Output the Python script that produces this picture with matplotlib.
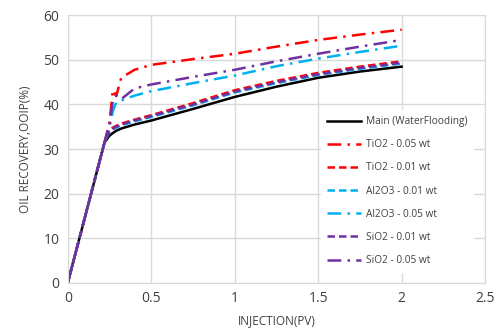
import matplotlib
matplotlib.use("Agg")
import matplotlib.pyplot as plt

# Pore volumes injected
pv = [0, 0.22, 0.25, 0.27, 0.29, 0.32, 0.40, 0.50, 0.75, 1.00, 1.25, 1.50, 1.75, 2.00]

# Oil recovery (% OOIP) per case
main_wf   = [0, 31.5, 33.0, 33.6, 34.1, 34.6, 35.5, 36.4, 39.0, 41.7, 44.0, 46.0, 47.4, 48.5]
tio2_005  = [0, 31.5, 36.0, 43.3, 41.9, 46.0, 47.8, 48.9, 50.2, 51.4, 53.0, 54.5, 55.7, 56.8]
tio2_001  = [0, 31.5, 34.3, 34.8, 35.2, 35.7, 36.6, 37.6, 40.3, 43.2, 45.3, 47.1, 48.5, 49.7]
al2o3_001 = [0, 31.5, 33.9, 34.4, 34.8, 35.3, 36.2, 37.2, 39.8, 42.7, 44.8, 46.6, 48.0, 49.2]
al2o3_005 = [0, 31.5, 35.0, 38.5, 40.5, 40.9, 42.0, 43.0, 44.8, 46.5, 48.6, 50.3, 51.8, 53.2]
sio2_001  = [0, 31.5, 34.1, 34.6, 35.0, 35.5, 36.4, 37.4, 40.0, 42.9, 45.0, 46.8, 48.2, 49.4]
sio2_005  = [0, 31.5, 35.5, 41.0, 42.0, 41.2, 43.6, 44.5, 46.2, 47.8, 49.7, 51.4, 53.0, 54.5]

labels = ["Main (WaterFlooding)", "TiO2 - 0.05 wt", "TiO2 - 0.01 wt",
          "Al2O3 - 0.01 wt", "Al2O3 - 0.05 wt", "SiO2 - 0.01 wt", "SiO2 - 0.05 wt"]
x_ticks = [0, 0.5, 1, 1.5, 2, 2.5]
y_ticks = [0, 10, 20, 30, 40, 50, 60]

RED, CYAN, PURPLE = "#FF0000", "#00B0F0", "#7030A0"
dashdot = (0, (5.5, 2.5, 1, 2.5))
dashed = (0, (3, 1.6))

plt.rcParams["font.family"] = ["Open Sans", "DejaVu Sans"]

fig = plt.figure(figsize=(4.95, 3.36), dpi=100)
ax = fig.add_axes([0.137, 0.159, 0.843, 0.795])

series = [
    (main_wf, "black", "solid"),
    (tio2_005, RED, dashdot),
    (tio2_001, RED, dashed),
    (al2o3_001, CYAN, dashed),
    (al2o3_005, CYAN, dashdot),
    (sio2_001, PURPLE, dashed),
    (sio2_005, PURPLE, dashdot),
]
for (vals, col, ls), lab in zip(series, labels):
    ax.plot(pv, vals, color=col, linestyle=ls, lw=1.8, label=lab)

ax.set_xlim(0, 2.5)
ax.set_ylim(0, 60)
ax.set_xticks(x_ticks)
ax.set_xticklabels([f"{t:g}" for t in x_ticks])
ax.set_yticks(y_ticks)
ax.grid(True, color="#D9D9D9", lw=1)
ax.set_axisbelow(True)
for s in ax.spines.values():
    s.set_color("#D9D9D9")
ax.tick_params(length=0, labelsize=10, colors="#404040", pad=6)
ax.set_xlabel("INJECTION(PV)", fontsize=8.5, color="#404040", labelpad=6)
ax.set_ylabel("OIL RECOVERY,OOIP(%)", fontsize=8.5, color="#404040", labelpad=8)

leg = ax.legend(loc="upper left", bbox_to_anchor=(0.595, 0.665), frameon=True,
                fontsize=7.3, labelspacing=1.2, handlelength=3.3,
                handletextpad=0.5, borderpad=0.6, fancybox=False)
leg.get_frame().set_facecolor("white")
leg.get_frame().set_edgecolor("white")
leg.get_frame().set_alpha(1)
for t in leg.get_texts():
    t.set_color("#404040")

fig.savefig("out.png", dpi=100)
